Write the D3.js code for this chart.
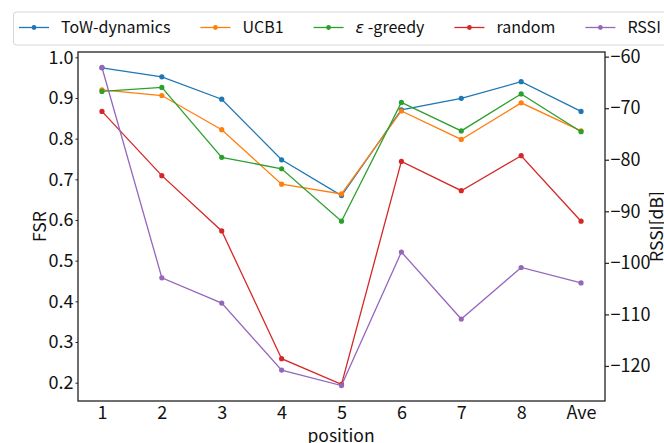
<!DOCTYPE html>
<html>
<head>
<meta charset="utf-8">
<script src="https://cdn.jsdelivr.net/npm/d3@7"></script>
<style>
  html, body { margin: 0; padding: 0; background: #fff; }
  svg { display: block; }
  text { font-family: "Noto Sans CJK JP", "Noto Sans", sans-serif; fill: #111; }
</style>
</head>
<body>
<svg id="chart" width="664" height="443"></svg>
<script>
const categories = ["1", "2", "3", "4", "5", "6", "7", "8", "Ave"];
const towDynamics = [0.974, 0.952, 0.897, 0.748, 0.660, 0.871, 0.899, 0.940, 0.867];
const ucb1        = [0.920, 0.906, 0.822, 0.688, 0.664, 0.868, 0.798, 0.888, 0.819];
const epsGreedy   = [0.916, 0.926, 0.754, 0.726, 0.597, 0.889, 0.819, 0.910, 0.817];
const randomSel   = [0.867, 0.709, 0.573, 0.259, 0.196, 0.744, 0.672, 0.758, 0.597];
const rssi        = [-62.1, -102.9, -107.8, -120.8, -123.8, -97.9, -110.9, -100.9, -103.9];
const fsrTicks  = [0.2, 0.3, 0.4, 0.5, 0.6, 0.7, 0.8, 0.9, 1.0];
const rssiTicks = [-60, -70, -80, -90, -100, -110, -120];

const seriesFSR = [
  { name: "ToW-dynamics", values: towDynamics, color: "#1f77b4" },
  { name: "UCB1",         values: ucb1,        color: "#ff7f0e" },
  { name: "ε-greedy",     values: epsGreedy,   color: "#2ca02c" },
  { name: "random",       values: randomSel,   color: "#d62728" }
];
const seriesRSSI = { name: "RSSI", values: rssi, color: "#9467bd" };

const svg = d3.select("#chart");
const L = 78, R = 605, T = 52, B = 401;

const x = d3.scaleLinear().domain([-0.4, 8.4]).range([L, R]);
const yL = d3.scaleLinear().domain([0.155, 1.013]).range([B, T]);
const yR = d3.scaleLinear().domain([-126.8, -59.1]).range([B, T]);

// frame
svg.append("rect").attr("x", L).attr("y", T).attr("width", R - L).attr("height", B - T)
  .attr("fill", "none").attr("stroke", "#222").attr("stroke-width", 1.3);

// left axis
const leftAxis = d3.axisLeft(yL).tickValues(fsrTicks).tickFormat(d3.format(".1f")).tickSize(2.5).tickPadding(2);
const gl = svg.append("g").attr("transform", `translate(${L},0)`).call(leftAxis);
gl.select(".domain").remove();
gl.selectAll("text").attr("font-size", 18).attr("font-family", "Noto Sans CJK JP").attr("fill", "#111");
gl.selectAll("line").attr("stroke", "#222");

// right axis
const rightAxis = d3.axisRight(yR).tickValues(rssiTicks).tickSize(4).tickPadding(1.5);
const gr = svg.append("g").attr("transform", `translate(${R},0)`).call(rightAxis);
gr.select(".domain").remove();
gr.selectAll("text").attr("font-size", 18).attr("font-family", "Noto Sans CJK JP").attr("fill", "#111");
gr.selectAll("line").attr("stroke", "#222").attr("stroke-width", 1.2);

// bottom axis
const bottomAxis = d3.axisBottom(x).tickValues(d3.range(categories.length))
  .tickFormat(i => categories[i]).tickSize(0).tickPadding(5);
const gb = svg.append("g").attr("transform", `translate(0,${B})`).call(bottomAxis);
gb.select(".domain").remove();
gb.selectAll("text").attr("font-size", 18).attr("font-family", "Noto Sans CJK JP").attr("fill", "#111");

// axis labels
svg.append("text").attr("x", 341).attr("y", 442).attr("text-anchor", "middle")
  .attr("font-size", 17.5).text("position");
svg.append("text").attr("transform", `translate(46,${(T + B) / 2}) rotate(-90)`)
  .attr("text-anchor", "middle").attr("font-size", 17.5).text("FSR");
svg.append("text").attr("transform", `translate(663,${(T + B) / 2}) rotate(-90)`)
  .attr("text-anchor", "middle").attr("font-size", 17.5).text("RSSI[dB]");

// series
function drawSeries(s, yScale) {
  const line = d3.line().x((d, i) => x(i)).y(d => yScale(d));
  svg.append("path").datum(s.values).attr("d", line)
    .attr("fill", "none").attr("stroke", s.color).attr("stroke-width", 1.3);
  svg.append("g").selectAll("circle").data(s.values).join("circle")
    .attr("cx", (d, i) => x(i)).attr("cy", d => yScale(d)).attr("r", 2.6)
    .attr("fill", s.color);
}
seriesFSR.forEach(s => drawSeries(s, yL));
drawSeries(seriesRSSI, yR);

// legend
const allSeries = [...seriesFSR, seriesRSSI];
const lg = svg.append("g");
lg.append("rect").attr("x", 13.5).attr("y", 12).attr("width", 720).attr("height", 33)
  .attr("rx", 3).attr("fill", "rgba(255,255,255,0.85)").attr("stroke", "#d6d6d6").attr("stroke-width", 1);
let cx = 19;
const fs = 16, ly = 27.5;
allSeries.forEach(s => {
  lg.append("line").attr("x1", cx).attr("x2", cx + 30).attr("y1", ly).attr("y2", ly)
    .attr("stroke", s.color).attr("stroke-width", 1.3);
  lg.append("circle").attr("cx", cx + 15).attr("cy", ly).attr("r", 2.4).attr("fill", s.color);
  const t = lg.append("text").attr("x", cx + 42).attr("y", ly).attr("dy", "0.35em").attr("font-size", fs);
  if (s.name.startsWith("ε")) {
    t.append("tspan").attr("font-style", "italic").attr("font-family", "DejaVu Sans").text("ε");
    t.append("tspan").text(" -greedy");
  } else {
    t.text(s.name);
  }
  const w = t.node().getComputedTextLength();
  cx = cx + 42 + w + 30;
});
</script>
</body>
</html>
